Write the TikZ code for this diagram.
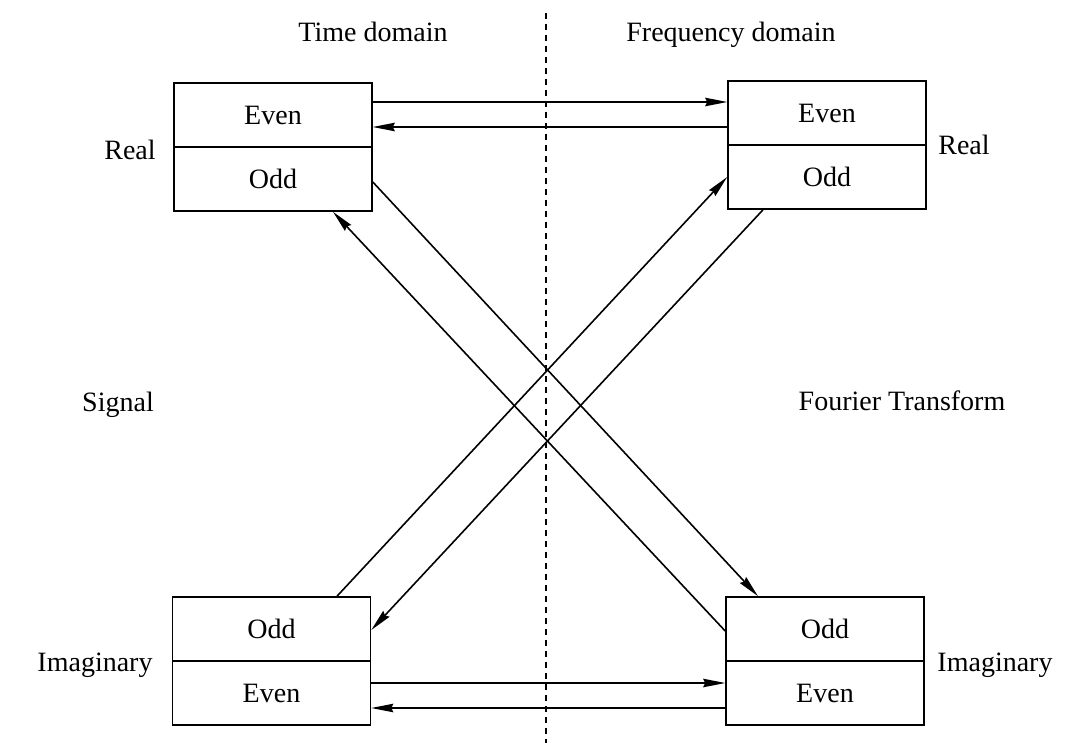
\documentclass[tikz,border=0pt]{standalone}
\usepackage{fontspec}
\setmainfont{Liberation Serif}
\usetikzlibrary{arrows.meta}
\begin{document}
\begin{tikzpicture}[x=1pt,y=-1pt,
  half/.style={draw,line width=1.6pt,rectangle,minimum width=198pt,minimum height=64pt,inner sep=0pt,font=\fontsize{28}{34}\selectfont},
  lab/.style={anchor=base,inner sep=0pt,font=\fontsize{28}{34}\selectfont},
  arr/.style={line width=1.6pt,-{Stealth[length=22pt,width=8.5pt,inset=2pt]}},
  divider/.style={line width=1.8pt,dash pattern=on 6pt off 5pt}]
\useasboundingbox (0,0) rectangle (1071,743);
% dashed divider
\coordinate (dtop) at (546,13);
\coordinate (dbot) at (546,743);
\draw[divider] (dtop) -- (dbot);
% boxes
\node[half] (tlE) at (273,115) {Even};
\node[half] (tlO) at (273,179) {Odd};
\node[half] (trE) at (827,113) {Even};
\node[half] (trO) at (827,177) {Odd};
\node[half] (blO) at (271.5,629) {Odd};
\node[half] (blE) at (271.5,693) {Even};
\node[half] (brO) at (825,629) {Odd};
\node[half] (brE) at (825,693) {Even};
% labels
\node[lab] (ltime) at (373,42) {Time domain};
\node[lab] (lfreq) at (731,42) {Frequency domain};
\node[lab] (lrealL) at (130,160) {Real};
\node[lab] (lrealR) at (964,155) {Real};
\node[lab] (lsig) at (118,411) {Signal};
\node[lab] (lft) at (902,410) {Fourier Transform};
\node[lab] (limL) at (95,671) {Imaginary};
\node[lab] (limR) at (995,671) {Imaginary};
% horizontal arrows
\draw[arr] ([yshift=13pt]tlE.east) -- ([yshift=11pt]trE.west);
\draw[arr] ([yshift=-14pt]trE.west) -- ([yshift=-12pt]tlE.east);
\draw[arr] ([yshift=10pt]blE.east) -- ([yshift=10pt]brE.west);
\draw[arr] ([yshift=-15pt]brE.west) -- ([yshift=-15pt]blE.east);
% diagonal arrows
\draw[arr] ([yshift=-3pt]tlO.east) -- ([xshift=-67pt]brO.north);
\draw[arr] ([yshift=-2pt]brO.west) -- ([xshift=60pt]tlO.south);
\draw[arr] ([xshift=65.5pt]blO.north) -- (trO.west);
\draw[arr] ([xshift=-64pt]trO.south) -- ([yshift=-1pt]blO.east);
\end{tikzpicture}
\end{document}
